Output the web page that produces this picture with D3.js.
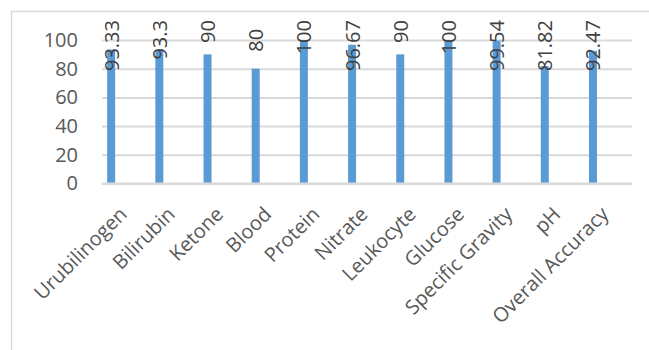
<!DOCTYPE html>
<html>
<head>
<meta charset="utf-8">
<script src="https://cdn.jsdelivr.net/npm/d3@7"></script>
<style>
  html, body { margin: 0; padding: 0; background: #fff; }
  svg { display: block; }
  text { font-family: "Open Sans", Lato, sans-serif; fill: #595959; }
</style>
</head>
<body>
<svg id="chart" width="649" height="350"></svg>
<script>
// Urinalysis parameter accuracy (%)
const categories = ["Urubilinogen", "Bilirubin", "Ketone", "Blood", "Protein", "Nitrate",
  "Leukocyte", "Glucose", "Specific Gravity", "pH", "Overall Accuracy"];
const accuracy = [93.33, 93.3, 90, 80, 100, 96.67, 90, 100, 99.54, 81.82, 92.47];
const valueLabels = ["93.33", "93.3", "90", "80", "100", "96.67", "90", "100", "99.54", "81.82", "92.47"];
const yTicks = [0, 20, 40, 60, 80, 100];

const W = 649, H = 350;
const plot = { left: 102, right: 632, top: 40, bottom: 183.5 };
const fontSize = 20;

const svg = d3.select("#chart");

// chart frame
svg.append("rect")
  .attr("x", 11.5).attr("y", 11.5)
  .attr("width", W + 20).attr("height", H + 20)
  .attr("fill", "#fff").attr("stroke", "#d9d9d9").attr("stroke-width", 1.5);

const x = d3.scaleBand().domain(categories).range([plot.left, plot.right]);
// clustered slot layout: the single series sits in the first of four slots
const slots = d3.scaleBand().domain([0, 1, 2, 3]).range([0, x.bandwidth()]).paddingInner(0).paddingOuter(0.42);
const y = d3.scaleLinear().domain([0, 100]).range([plot.bottom, plot.top]);

// gridlines + tick labels
const yAxis = d3.axisLeft(y).tickValues(yTicks).tickSize(-(plot.right - plot.left)).tickPadding(24);
const gy = svg.append("g").attr("transform", `translate(${plot.left},0)`).call(yAxis);
gy.select(".domain").remove();
gy.selectAll(".tick line").attr("stroke", "#d9d9d9").attr("stroke-width", 2);
gy.selectAll(".tick text").attr("font-size", fontSize).attr("fill", "#595959")
  .style("font-family", "'Open Sans', Lato, sans-serif");

const barW = 8;
const barX = (c) => x(c) + slots(0) + slots.bandwidth() / 2;

// bars
svg.append("g").selectAll("rect")
  .data(categories)
  .join("rect")
  .attr("x", (c) => barX(c) - barW / 2)
  .attr("width", barW)
  .attr("y", (c, i) => y(accuracy[i]))
  .attr("height", (c, i) => y(0) - y(accuracy[i]))
  .attr("fill", "#5b9bd5");

// redraw the baseline over the bars
svg.append("line")
  .attr("x1", plot.left).attr("x2", plot.right)
  .attr("y1", y(0)).attr("y2", y(0))
  .attr("stroke", "#d9d9d9").attr("stroke-width", 2);

// rotated value labels above each bar, kept inside the chart top
const labelTop = 20;
svg.append("g").selectAll("text")
  .data(categories)
  .join("text")
  .attr("font-size", fontSize)
  .style("fill", "#404040")
  .attr("dominant-baseline", "central")
  .text((c, i) => valueLabels[i])
  .each(function (c, i) {
    const L = this.getComputedTextLength();
    let bottom = y(accuracy[i]) - 17;
    if (bottom - L < labelTop) bottom = labelTop + L;
    d3.select(this).attr("transform", `translate(${barX(c)},${bottom}) rotate(-90)`);
  });

// category labels at -45°
svg.append("g").selectAll("text")
  .data(categories)
  .join("text")
  .attr("font-size", fontSize)
  .attr("text-anchor", "end")
  .attr("transform", (c) => `translate(${x(c) + x.bandwidth() / 2 + 2},${plot.bottom + 32}) rotate(-45)`)
  .text((c) => c);
</script>
</body>
</html>
